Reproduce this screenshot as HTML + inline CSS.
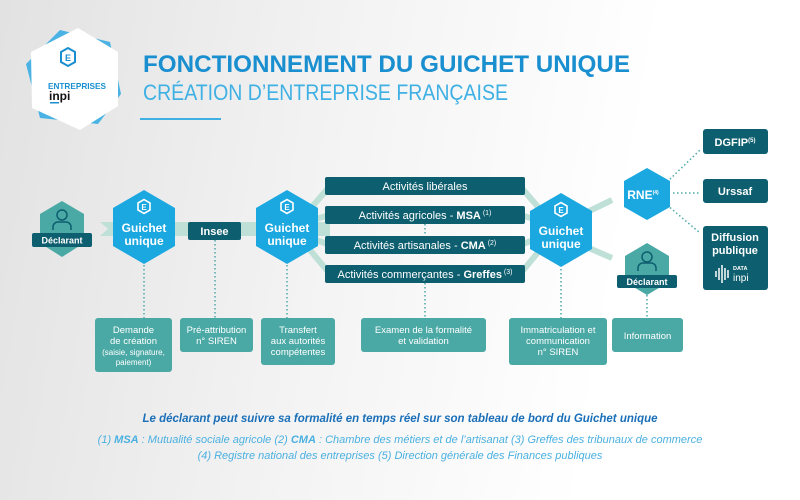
<!DOCTYPE html>
<html><head><meta charset="utf-8"><style>
html,body{margin:0;padding:0}
body{width:800px;height:500px;overflow:hidden;background:linear-gradient(100deg,#e2e2e2 0%,#f3f3f3 40%,#ffffff 75%);font-family:"Liberation Sans",sans-serif}
svg{display:block}
</style></head><body>
<svg width="800" height="500" viewBox="0 0 800 500" xmlns="http://www.w3.org/2000/svg" font-family="Liberation Sans, sans-serif">
<!-- logo -->
<polygon points="60,30 110,42 121,94 98,124 40,118 26,64" fill="#4ab3e3"/>
<polygon points="78,28 118,52 118,106 80,130 32,108 31,52" fill="#fff"/>
<polygon points="61,52 68,48 75,52 75,62 68,66 61,62" fill="none" stroke="#1a8fd0" stroke-width="2"/>
<text x="68" y="61" font-size="9" font-weight="bold" fill="#1a8fd0" text-anchor="middle">E</text>
<text x="48" y="89" font-size="8.5" font-weight="bold" fill="#1a8fd0" textLength="58" lengthAdjust="spacingAndGlyphs">ENTREPRISES</text>
<text x="49" y="100" font-size="12" font-weight="bold" fill="#111">inpi</text>
<rect x="50" y="102" width="9" height="1.5" fill="#1a8fd0"/>
<!-- title -->
<text x="143" y="72" font-size="24" font-weight="bold" fill="#1a8fd0" textLength="487" lengthAdjust="spacingAndGlyphs">FONCTIONNEMENT DU GUICHET UNIQUE</text>
<text x="143" y="100" font-size="22" fill="#3fb0e4" textLength="365" lengthAdjust="spacingAndGlyphs">CRÉATION D’ENTREPRISE FRANÇAISE</text>
<rect x="140" y="118" width="81" height="2" fill="#3fb0e4"/>
<!-- main band -->
<polygon points="100,222 330,222 330,236 100,236 108,229" fill="#bfe0d6"/>
<g stroke="#bfe0d6" stroke-width="6" fill="none">
<line x1="305" y1="215" x2="330" y2="186"/><line x1="305" y1="222" x2="330" y2="215"/>
<line x1="305" y1="236" x2="330" y2="245"/><line x1="305" y1="244" x2="330" y2="274"/>
<line x1="520" y1="186" x2="545" y2="215"/><line x1="520" y1="215" x2="545" y2="222"/>
<line x1="520" y1="245" x2="545" y2="236"/><line x1="520" y1="274" x2="545" y2="244"/>
<line x1="575" y1="218" x2="612" y2="200"/><line x1="575" y1="242" x2="612" y2="258"/>
</g>
<!-- dotted lines -->
<g stroke="#4aa9a5" stroke-width="1.5" stroke-dasharray="1.5,2.5" fill="none">
<line x1="144" y1="265" x2="144" y2="318"/><line x1="215" y1="240" x2="215" y2="318"/>
<line x1="287" y1="265" x2="287" y2="318"/><line x1="425" y1="224" x2="425" y2="236"/>
<line x1="425" y1="283" x2="425" y2="318"/><line x1="561" y1="265" x2="561" y2="318"/>
<line x1="647" y1="295" x2="647" y2="318"/>
<line x1="667" y1="182" x2="700" y2="150"/><line x1="673" y1="193" x2="700" y2="193"/><line x1="667" y1="205" x2="700" y2="233"/>
</g>
<!-- declarant 1 -->
<polygon points="62,201 84,214 84,243 62,257 40,243 40,214" fill="#4aa9a5"/>
<circle cx="62" cy="215" r="5" fill="none" stroke="#0d5e6e" stroke-width="1.5"/>
<path d="M53,230 v-3 a5,5 0 0 1 5,-5 h8 a5,5 0 0 1 5,5 v3" fill="none" stroke="#0d5e6e" stroke-width="1.5"/>
<rect x="32" y="233" width="60" height="14" rx="2" fill="#0d5e6e"/>
<text x="62" y="243.5" font-size="9" font-weight="bold" fill="#fff" text-anchor="middle">Déclarant</text>
<!-- hex guichet -->
<g id="g1">
<polygon points="144,190 175,208 175,246 144,264 113,246 113,208" fill="#1ba7e0"/>
<polygon points="138,203 144,199.5 150,203 150,210 144,213.5 138,210" fill="none" stroke="#fff" stroke-width="1.6"/>
<text x="144" y="210" font-size="8" font-weight="bold" fill="#fff" text-anchor="middle">E</text>
<text x="144" y="232" font-size="12" font-weight="bold" fill="#fff" text-anchor="middle">Guichet</text>
<text x="144" y="245" font-size="12" font-weight="bold" fill="#fff" text-anchor="middle">unique</text>
</g>
<use href="#g1" x="143" y="0"/>
<use href="#g1" x="417" y="3"/>
<!-- insee -->
<rect x="188" y="222" width="53" height="18" rx="2" fill="#0d5e6e"/>
<text x="214.5" y="235" font-size="11" font-weight="bold" fill="#fff" text-anchor="middle">Insee</text>
<!-- activities -->
<g fill="#0d5e6e"><rect x="325" y="177" width="200" height="18" rx="2"/><rect x="325" y="206" width="200" height="18" rx="2"/><rect x="325" y="236" width="200" height="18" rx="2"/><rect x="325" y="265" width="200" height="18" rx="2"/></g>
<g fill="#fff" font-size="11" text-anchor="middle">
<text x="425" y="190">Activités libérales</text>
<text x="425" y="219">Activités agricoles - <tspan font-weight="bold">MSA</tspan><tspan font-size="7" dy="-4"> (1)</tspan></text>
<text x="425" y="249">Activités artisanales - <tspan font-weight="bold">CMA</tspan><tspan font-size="7" dy="-4"> (2)</tspan></text>
<text x="425" y="278">Activités commerçantes - <tspan font-weight="bold">Greffes</tspan><tspan font-size="7" dy="-4"> (3)</tspan></text>
</g>
<!-- RNE -->
<polygon points="647,168 670,181 670,207 647,220 624,207 624,181" fill="#1ba7e0"/>
<text x="643" y="199" font-size="12" font-weight="bold" fill="#fff" text-anchor="middle">RNE<tspan font-size="5" dy="-5">(4)</tspan></text>
<!-- right boxes -->
<rect x="703" y="129" width="65" height="25" rx="3" fill="#0d5e6e"/>
<text x="735" y="146" font-size="11" font-weight="bold" fill="#fff" text-anchor="middle">DGFIP<tspan font-size="6" dy="-4">(5)</tspan></text>
<rect x="703" y="179" width="65" height="24" rx="3" fill="#0d5e6e"/>
<text x="735" y="195" font-size="11" font-weight="bold" fill="#fff" text-anchor="middle">Urssaf</text>
<rect x="703" y="226" width="65" height="64" rx="3" fill="#0d5e6e"/>
<text x="735" y="241" font-size="11" font-weight="bold" fill="#fff" text-anchor="middle">Diffusion</text>
<text x="735" y="254" font-size="11" font-weight="bold" fill="#fff" text-anchor="middle">publique</text>
<g stroke="#fff" stroke-width="1.5"><line x1="716" y1="271" x2="716" y2="277"/><line x1="719" y1="268" x2="719" y2="280"/><line x1="722" y1="265" x2="722" y2="283"/><line x1="725" y1="268" x2="725" y2="280"/><line x1="728" y1="270" x2="728" y2="278"/></g>
<text x="733" y="270" font-size="5.5" font-weight="bold" fill="#fff">DATA</text>
<text x="733" y="281" font-size="10" fill="#fff">inpi</text>
<!-- declarant 2 -->
<polygon points="647,243 669,256 669,282 647,295 625,282 625,256" fill="#4aa9a5"/>
<circle cx="647" cy="257" r="5" fill="none" stroke="#0d5e6e" stroke-width="1.5"/>
<path d="M638,271 v-3 a5,5 0 0 1 5,-5 h8 a5,5 0 0 1 5,5 v3" fill="none" stroke="#0d5e6e" stroke-width="1.5"/>
<rect x="617" y="275" width="60" height="13" rx="2" fill="#0d5e6e"/>
<text x="647" y="285" font-size="9" font-weight="bold" fill="#fff" text-anchor="middle">Déclarant</text>
<!-- bottom boxes -->
<g fill="#4aa9a5">
<rect x="95" y="318" width="77" height="54" rx="3"/><rect x="180" y="318" width="73" height="34" rx="3"/>
<rect x="261" y="318" width="74" height="47" rx="3"/><rect x="361" y="318" width="125" height="34" rx="3"/>
<rect x="509" y="318" width="98" height="47" rx="3"/><rect x="612" y="318" width="71" height="34" rx="3"/>
</g>
<g fill="#fff" font-size="9.5" text-anchor="middle">
<text x="133.5" y="333">Demande</text><text x="133.5" y="344">de création</text>
<text x="133.5" y="355" font-size="8">(saisie, signature,</text><text x="133.5" y="365" font-size="8">paiement)</text>
<text x="216.5" y="333">Pré-attribution</text><text x="216.5" y="344">n° SIREN</text>
<text x="298" y="333">Transfert</text><text x="298" y="344">aux autorités</text><text x="298" y="355">compétentes</text>
<text x="423.5" y="333">Examen de la formalité</text><text x="423.5" y="344">et validation</text>
<text x="558" y="333">Immatriculation et</text><text x="558" y="344">communication</text><text x="558" y="355">n° SIREN</text>
<text x="647.5" y="339">Information</text>
</g>
<!-- footer -->
<text x="400" y="422" font-size="11.5" font-style="italic" font-weight="bold" fill="#1a6fb8" text-anchor="middle">Le déclarant peut suivre sa formalité en temps réel sur son tableau de bord du Guichet unique</text>
<text x="400" y="443" font-size="11" font-style="italic" fill="#4ab0e0" text-anchor="middle">(1) <tspan font-weight="bold">MSA</tspan> : Mutualité sociale agricole (2) <tspan font-weight="bold">CMA</tspan> : Chambre des métiers et de l’artisanat (3) Greffes des tribunaux de commerce</text>
<text x="400" y="459" font-size="11" font-style="italic" fill="#4ab0e0" text-anchor="middle">(4) Registre national des entreprises (5) Direction générale des Finances publiques</text>
</svg>
</body></html>
